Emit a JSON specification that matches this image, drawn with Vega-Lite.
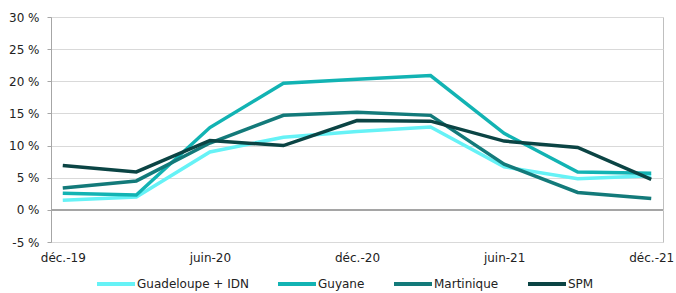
{
  "$schema": "https://vega.github.io/schema/vega-lite/v6.json",
  "width": 612,
  "height": 225,
  "autosize": {"type": "none"},
  "padding": {"left": 51, "top": 17, "right": 13, "bottom": 51},
  "config": {
    "font": "DejaVu Sans",
    "view": {"stroke": "#bfbfbf", "strokeWidth": 1},
    "axis": {"labelFont": "DejaVu Sans", "labelFontSize": 12, "labelColor": "#222222"}
  },
  "data": {
    "values": [
      {"date": "déc.-19", "serie": "Guadeloupe + IDN", "v": 1.5},
      {"date": "mars-20", "serie": "Guadeloupe + IDN", "v": 2.0},
      {"date": "juin-20", "serie": "Guadeloupe + IDN", "v": 9.0},
      {"date": "sept.-20", "serie": "Guadeloupe + IDN", "v": 11.3},
      {"date": "déc.-20", "serie": "Guadeloupe + IDN", "v": 12.2},
      {"date": "mars-21", "serie": "Guadeloupe + IDN", "v": 12.9},
      {"date": "juin-21", "serie": "Guadeloupe + IDN", "v": 6.7},
      {"date": "sept.-21", "serie": "Guadeloupe + IDN", "v": 4.85},
      {"date": "déc.-21", "serie": "Guadeloupe + IDN", "v": 5.3},
      {"date": "déc.-19", "serie": "Guyane", "v": 2.6},
      {"date": "mars-20", "serie": "Guyane", "v": 2.3},
      {"date": "juin-20", "serie": "Guyane", "v": 12.8},
      {"date": "sept.-20", "serie": "Guyane", "v": 19.7},
      {"date": "déc.-20", "serie": "Guyane", "v": 20.3},
      {"date": "mars-21", "serie": "Guyane", "v": 20.9},
      {"date": "juin-21", "serie": "Guyane", "v": 11.9},
      {"date": "sept.-21", "serie": "Guyane", "v": 5.9},
      {"date": "déc.-21", "serie": "Guyane", "v": 5.7},
      {"date": "déc.-19", "serie": "Martinique", "v": 3.4},
      {"date": "mars-20", "serie": "Martinique", "v": 4.5},
      {"date": "juin-20", "serie": "Martinique", "v": 10.4},
      {"date": "sept.-20", "serie": "Martinique", "v": 14.7},
      {"date": "déc.-20", "serie": "Martinique", "v": 15.2},
      {"date": "mars-21", "serie": "Martinique", "v": 14.7},
      {"date": "juin-21", "serie": "Martinique", "v": 7.1},
      {"date": "sept.-21", "serie": "Martinique", "v": 2.7},
      {"date": "déc.-21", "serie": "Martinique", "v": 1.75},
      {"date": "déc.-19", "serie": "SPM", "v": 6.9},
      {"date": "mars-20", "serie": "SPM", "v": 5.9},
      {"date": "juin-20", "serie": "SPM", "v": 10.8},
      {"date": "sept.-20", "serie": "SPM", "v": 10.0},
      {"date": "déc.-20", "serie": "SPM", "v": 13.9},
      {"date": "mars-21", "serie": "SPM", "v": 13.8},
      {"date": "juin-21", "serie": "SPM", "v": 10.7},
      {"date": "sept.-21", "serie": "SPM", "v": 9.7},
      {"date": "déc.-21", "serie": "SPM", "v": 4.75}
    ]
  },
  "layer": [
    {
      "mark": {"type": "line", "strokeWidth": 3.5, "strokeJoin": "miter"},
      "encoding": {
        "x": {
          "field": "date",
          "type": "ordinal",
          "sort": null,
          "scale": {"type": "point", "padding": 0.16},
          "axis": {
            "title": null,
            "domain": false,
            "ticks": false,
            "labelAngle": 0,
            "labelPadding": 10,
            "values": ["déc.-19", "juin-20", "déc.-20", "juin-21", "déc.-21"]
          }
        },
        "y": {
          "field": "v",
          "type": "quantitative",
          "scale": {"domain": [-5, 30], "nice": false, "zero": false},
          "axis": {
            "title": null,
            "tickCount": 7,
            "labelExpr": "datum.value + ' %'",
            "labelOverlap": false,
            "labelSeparation": 0,
            "labelBound": false,
            "gridColor": "#d9d9d9",
            "domainColor": "#a6a6a6",
            "tickColor": "#a6a6a6",
            "tickSize": 4,
            "labelPadding": 8
          }
        },
        "color": {
          "field": "serie",
          "type": "nominal",
          "scale": {
            "domain": ["Guadeloupe + IDN", "Guyane", "Martinique", "SPM"],
            "range": ["#66f2f6", "#12b3b3", "#137a7a", "#0b4444"]
          },
          "legend": {
            "title": null,
            "orient": "none",
            "direction": "horizontal",
            "legendX": 44,
            "legendY": 246,
            "symbolType": "stroke",
            "symbolSize": 1444,
            "symbolStrokeWidth": 4,
            "labelFontSize": 12,
            "labelFont": "DejaVu Sans",
            "labelColor": "#222222",
            "labelOffset": 0,
            "columnPadding": 21
          }
        }
      }
    },
    {
      "mark": {"type": "rule", "color": "#a6a6a6", "strokeWidth": 1},
      "encoding": {"y": {"datum": 0, "type": "quantitative"}}
    }
  ]
}
